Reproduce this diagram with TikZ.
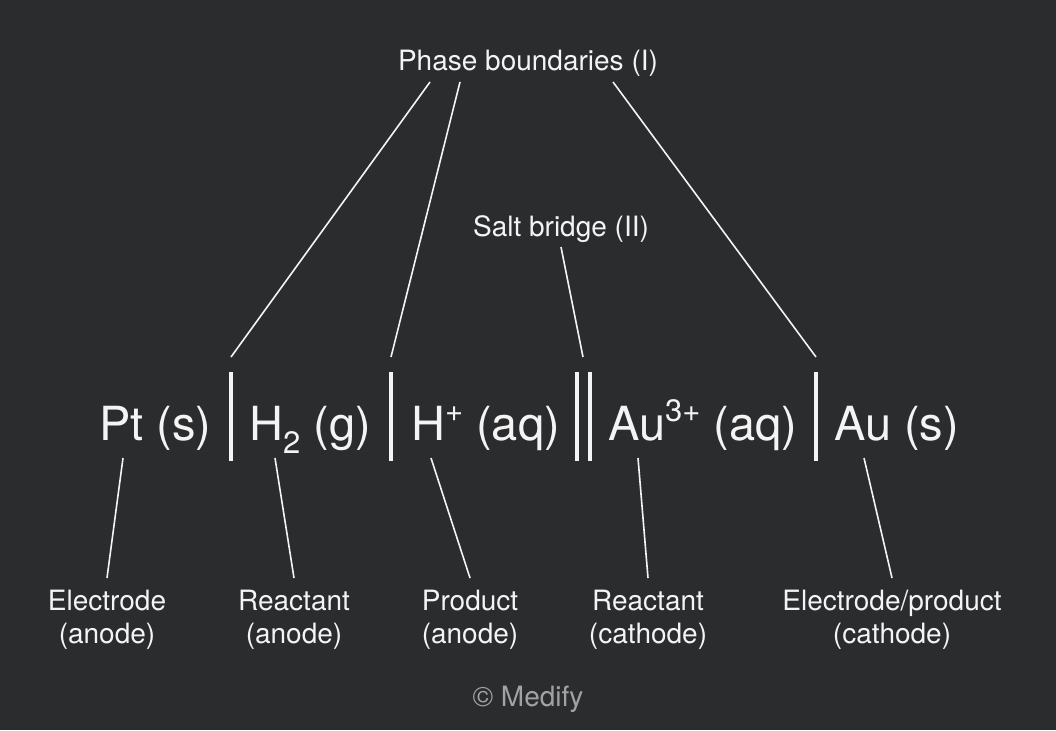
\documentclass[tikz,border=0pt]{standalone}
\usepackage{fontspec}
\setmainfont{TeX Gyre Heros}
\definecolor{bg}{HTML}{2B2C2E}
\definecolor{fg}{HTML}{F4F4F4}
\definecolor{gr}{HTML}{A2A2A2}
\newcommand{\bigf}{\fontsize{47}{52}\selectfont}
\newcommand{\subf}{\fontsize{31}{31}\selectfont}
\newcommand{\supf}{\fontsize{31}{31}\selectfont}
\newcommand{\lblf}{\fontsize{28}{33}\selectfont}
\newcommand{\mysub}[1]{\raisebox{-0.28em}{\subf #1}}
\newcommand{\mysup}[1]{\raisebox{0.4em}{\supf #1}}
\begin{document}
\begin{tikzpicture}[x=1pt,y=-1pt,
  formula/.style={anchor=base west,inner sep=0pt,text=fg,font=\bigf},
  lbl/.style={inner sep=0pt,text=fg,font=\lblf,align=center},
  conn/.style={draw=fg,line width=1.6pt},
  bar/.style={draw=fg,line width=3.6pt}]
\fill[bg] (0,0) rectangle (1056,730);
\useasboundingbox (0,0) rectangle (1056,730);
% formula pieces
\node[formula] (pt) at (99,440) {Pt (s)};
\node[formula] (h2) at (249,440) {H\mysub{2} (g)};
\node[formula] (hp) at (411,440) {H\mysup{+} (aq)};
\node[formula] (au3) at (608,440) {Au\mysup{3+} (aq)};
\node[formula] (au) at (834,440) {Au (s)};
% bars
\coordinate (b1t) at (231,372); \coordinate (b1b) at (231,461);
\coordinate (b2t) at (391,372); \coordinate (b2b) at (391,461);
\coordinate (b3t) at (577,372); \coordinate (b3b) at (577,461);
\coordinate (b4t) at (590,372); \coordinate (b4b) at (590,461);
\coordinate (b5t) at (816,372); \coordinate (b5b) at (816,461);
\draw[bar] (b1t) -- (b1b);
\draw[bar] (b2t) -- (b2b);
\draw[bar] (b3t) -- (b3b);
\draw[bar] (b4t) -- (b4b);
\draw[bar] (b5t) -- (b5b);
% top labels
\node[lbl] (pb) at (528,63) {Phase boundaries (I)};
\node[lbl] (sb) at (561,229) {Salt bridge (II)};
\coordinate (pb1) at (430,82); \coordinate (pb2) at (460,82); \coordinate (pb3) at (613,82);
\coordinate (e1) at (231,357); \coordinate (e2) at (391,357); \coordinate (e3) at (816,357);
\coordinate (sb1) at (561,247); \coordinate (e4) at (583,357);
\draw[conn] (pb1) -- (e1);
\draw[conn] (pb2) -- (e2);
\draw[conn] (pb3) -- (e3);
\draw[conn] (sb1) -- (e4);
% bottom labels
\node[lbl] (l1) at (107,620) {Electrode\\(anode)};
\node[lbl] (l2) at (294,620) {Reactant\\(anode)};
\node[lbl] (l3) at (470,620) {Product\\(anode)};
\node[lbl] (l4) at (648,620) {Reactant\\(cathode)};
\node[lbl] (l5) at (892,620) {Electrode/product\\(cathode)};
\coordinate (t1) at (123,458); \coordinate (t2) at (275,458); \coordinate (t3) at (431,458);
\coordinate (t4) at (638,458); \coordinate (t5) at (864,458);
\coordinate (s1) at (107,578); \coordinate (s2) at (294,578); \coordinate (s3) at (470,578);
\coordinate (s4) at (648,578); \coordinate (s5) at (892,578);
\draw[conn] (t1) -- (s1);
\draw[conn] (t2) -- (s2);
\draw[conn] (t3) -- (s3);
\draw[conn] (t4) -- (s4);
\draw[conn] (t5) -- (s5);
% copyright
\node[lbl,text=gr] (cp) at (528,699) {© Medify};
\end{tikzpicture}
\end{document}
